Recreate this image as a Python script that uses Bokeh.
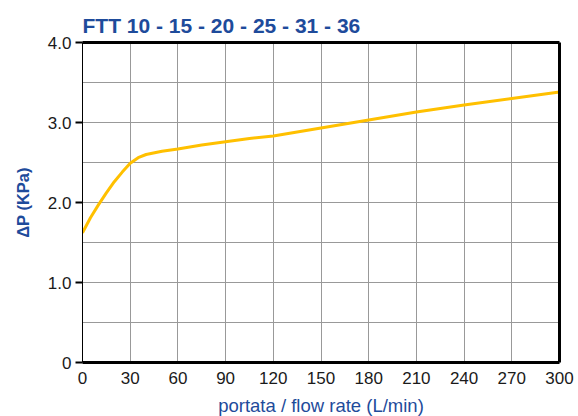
from bokeh.plotting import figure
from bokeh.models import LinearAxis, FixedTicker, Range1d
from bokeh.embed import file_html
from bokeh.resources import INLINE

title_text = "FTT 10 - 15 - 20 - 25 - 31 - 36"
x_label = "portata / flow rate (L/min)"
y_label = "\u0394P (KPa)"

flow = [0, 5, 10, 15, 20, 25, 30, 35, 40, 50, 60, 75, 90, 105, 120, 150, 180, 210, 240, 270, 300]
dp = [1.62, 1.81, 1.97, 2.12, 2.26, 2.38, 2.49, 2.56, 2.60, 2.64, 2.67, 2.72, 2.76, 2.80, 2.83, 2.93, 3.03, 3.13, 3.22, 3.30, 3.38]

x_ticks = [0, 30, 60, 90, 120, 150, 180, 210, 240, 270, 300]
y_ticks = [0, 1, 2, 3, 4]
y_tick_labels = ["0", "1.0", "2.0", "3.0", "4.0"]
y_minor = [0.5, 1.5, 2.5, 3.5]

FONT = "Liberation Sans"
BLUE = "#1e4b9b"
GRID = "#999999"

p = figure(frame_width=477, frame_height=320, output_backend="svg", toolbar_location=None,
           x_range=Range1d(0, 300), y_range=Range1d(0, 4), title=title_text,
           min_border_left=82, min_border_right=19, min_border_top=42, min_border_bottom=54)
p.outline_line_color = None
p.background_fill_color = "white"
p.border_fill_color = "white"

p.title.text_font = FONT
p.title.text_font_size = "21px"
p.title.text_font_style = "bold"
p.title.text_color = BLUE
p.title.align = "left"
p.title.offset = 0
p.title.standoff = 12

# axes
xa = p.xaxis[0]
xa.ticker = FixedTicker(ticks=x_ticks)
xa.axis_line_width = 3
xa.axis_line_color = "black"
xa.major_tick_out = 0
xa.major_tick_in = 0
xa.minor_tick_out = 0
xa.minor_tick_in = 0
xa.major_label_text_font = FONT
xa.major_label_text_font_size = "17px"
xa.major_label_text_color = "#1a1a1a"
xa.major_label_standoff = 9
xa.axis_label = x_label
xa.axis_label_text_font = FONT
xa.axis_label_text_font_size = "18.5px"
xa.axis_label_text_font_style = "normal"
xa.axis_label_text_color = BLUE
xa.axis_label_standoff = 8

ya = p.yaxis[0]
ya.ticker = FixedTicker(ticks=y_ticks)
ya.major_label_overrides = dict(zip(y_ticks, y_tick_labels))
ya.axis_line_width = 1
ya.axis_line_color = "black"
ya.major_tick_out = 7
ya.major_tick_in = 0
ya.major_tick_line_width = 2
ya.minor_tick_out = 0
ya.minor_tick_in = 0
ya.major_label_text_font = FONT
ya.major_label_text_font_size = "17px"
ya.major_label_text_color = "#1a1a1a"
ya.major_label_standoff = 4
ya.axis_label = y_label
ya.axis_label_text_font = FONT
ya.axis_label_text_font_size = "16.5px"
ya.axis_label_text_font_style = "bold"
ya.axis_label_text_color = BLUE
ya.axis_label_standoff = 13

for side in ("above", "right"):
    ax = LinearAxis(ticker=FixedTicker(ticks=[]), axis_line_width=3, axis_line_color="black",
                    major_tick_line_color=None, minor_tick_line_color=None,
                    major_tick_out=0, major_tick_in=0, minor_tick_out=0, minor_tick_in=0,
                    major_label_standoff=0, axis_label_standoff=0,
                    major_label_text_font_size="0px")
    p.add_layout(ax, side)

p.xgrid.ticker = FixedTicker(ticks=x_ticks)
p.xgrid.grid_line_color = GRID
p.xgrid.grid_line_width = 1
p.ygrid.ticker = FixedTicker(ticks=y_ticks, minor_ticks=y_minor)
p.ygrid.grid_line_color = GRID
p.ygrid.grid_line_width = 1
p.ygrid.minor_grid_line_color = GRID
p.ygrid.minor_grid_line_width = 1

p.line(flow, dp, line_color="#FFC000", line_width=3)

open("out.html", "w").write(file_html(p, INLINE))
